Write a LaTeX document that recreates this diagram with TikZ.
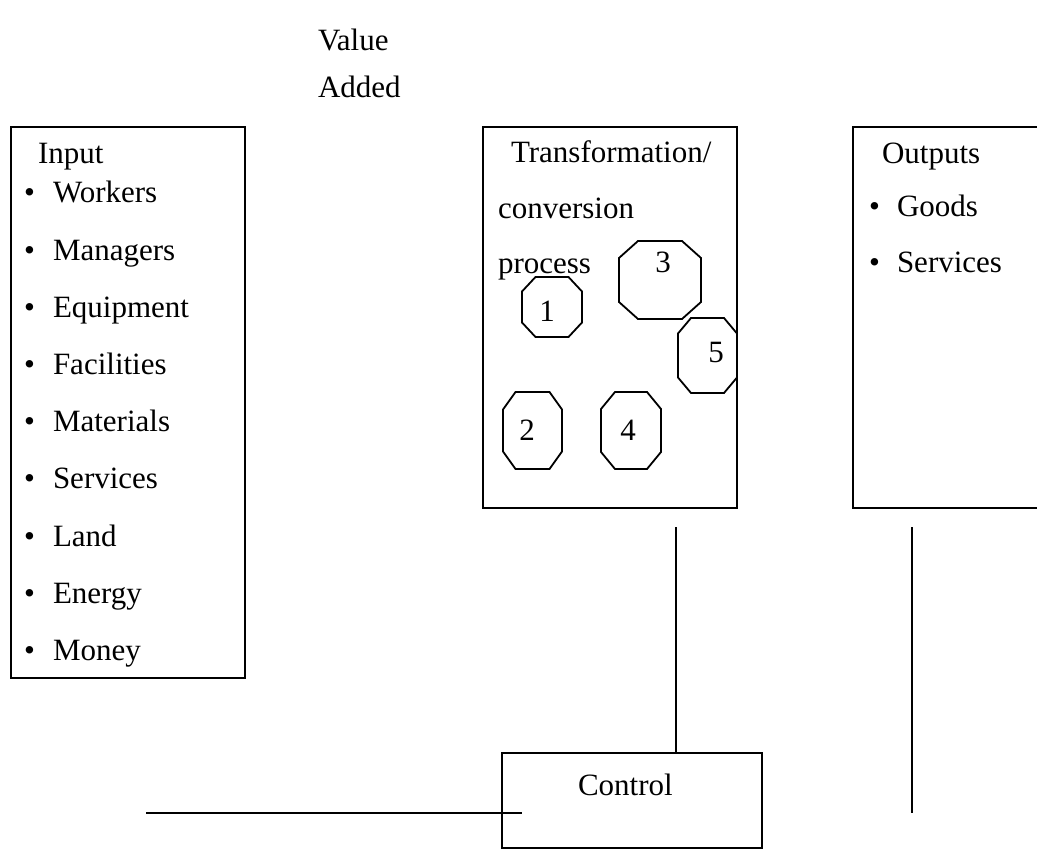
\documentclass[tikz,border=0pt]{standalone}
\usepackage{fontspec}
\setmainfont{Liberation Serif}
\newcommand{\octo}[7]{%
  \node[minimum width=#4pt,minimum height=#5pt,inner sep=0pt,outer sep=0pt] (#1) at (#2,#3) {};
  \draw ([xshift=#6pt]#1.north west) -- ([xshift=-#6pt]#1.north east)
     -- ([yshift=-#7pt]#1.north east) -- ([yshift=#7pt]#1.south east)
     -- ([xshift=-#6pt]#1.south east) -- ([xshift=#6pt]#1.south west)
     -- ([yshift=#7pt]#1.south west) -- ([yshift=-#7pt]#1.north west) -- cycle;}
\begin{document}
\begin{tikzpicture}[x=1pt,y=-1pt,line width=1.8pt,
  font=\fontsize{31}{37}\selectfont,
  txt/.style={anchor=base west,inner sep=0pt,outer sep=0pt},
  num/.style={anchor=base,inner sep=0pt,outer sep=0pt},
  box/.style={draw,anchor=north west,inner sep=0pt,outer sep=0pt}]
\useasboundingbox (0,0) rectangle (1037,850);
\clip (0,0) rectangle (1037,850);
% boxes
\node[box,minimum width=234pt,minimum height=551pt] (input) at (11,127) {};
\node[box,minimum width=254pt,minimum height=381pt] (trans) at (483,127) {};
\node[box,minimum width=220pt,minimum height=381pt] (outputs) at (853,127) {};
\node[box,minimum width=260pt,minimum height=95pt] (control) at (502,753) {};
% value added
\node[txt] (value) at (318,51) {Value};
\node[txt] (added) at (318,98) {Added};
% input list
\node[txt] (inputtitle) at (38,164) {Input};
\foreach \t [count=\i] in {Workers,Managers,Equipment,Facilities,Materials,Services,Land,Energy,Money}{
  \node[txt] (inb\i) at (24,{203+57.2*(\i-1)}) {\textbullet};
  \node[txt] (in\i) at (53,{203+57.2*(\i-1)}) {\t};
}
% transformation
\node[txt] (tr1) at (511,163) {Transformation/};
\node[txt] (tr2) at (498,219) {conversion};
\node[txt] (tr3) at (498,274) {process};
% octagons
\octo{o1}{552}{307}{60}{60}{13.5}{14.5}
\octo{o3}{660}{280}{82}{78}{19}{17}
\octo{o5}{707.5}{355.5}{59}{75}{13}{15.5}
\octo{o2}{532.5}{430.5}{59}{77}{12.5}{17.5}
\octo{o4}{631}{430.5}{60}{77}{14}{17}
\node[num] (n1) at (547,322) {1};
\node[num] (n3) at (663,273) {3};
\node[num] (n5) at (716,363) {5};
\node[num] (n2) at (527,440) {2};
\node[num] (n4) at (628,440) {4};
% outputs
\node[txt] (outtitle) at (882,164) {Outputs};
\node[txt] (ob1) at (869,217) {\textbullet};
\node[txt] (out1) at (897,217) {Goods};
\node[txt] (ob2) at (869,273) {\textbullet};
\node[txt] (out2) at (897,273) {Services};
% control
\node[txt] (ctrl) at (578,795) {Control};
% connectors
\coordinate (l1top) at (676,527);
\draw (l1top) -- (l1top |- control.north);
\coordinate (l2top) at (912,527);
\coordinate (l2bot) at (912,813);
\draw (l2top) -- (l2bot);
\coordinate (hl) at (146,813);
\coordinate (hr) at (522,813);
\draw (hl) -- (hr);
\end{tikzpicture}
\end{document}
